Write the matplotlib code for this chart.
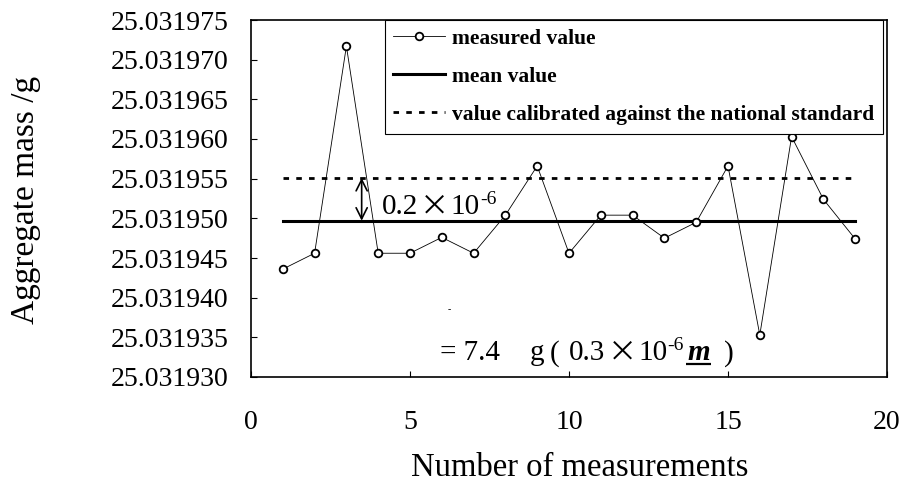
"""
Aggregate mass of the weight set over repeated measurements
"""

import matplotlib
matplotlib.use("Agg")
import numpy as np
import matplotlib.pyplot as plt
from matplotlib.ticker import FormatStrFormatter


# measurement number and measured aggregate mass in g
measurement = [1, 2, 3, 4, 5, 6, 7, 8, 9, 10, 11, 12, 13, 14, 15, 16, 17, 18, 19]
measured = [25.0319436, 25.0319456, 25.0319717, 25.0319456, 25.0319456,
            25.0319476, 25.0319456, 25.0319504, 25.0319566, 25.0319456,
            25.0319504, 25.0319504, 25.0319475, 25.0319495, 25.0319566,
            25.0319353, 25.0319603, 25.0319524, 25.0319474]
mean_value = 25.0319497
national_value = 25.0319551

y_ticks = [25.031930, 25.031935, 25.031940, 25.031945, 25.031950,
           25.031955, 25.031960, 25.031965, 25.031970, 25.031975]
x_ticks = [0, 5, 10, 15, 20]

SERIF = ["Liberation Serif", "DejaVu Serif"]
CROSS = ["Noto Sans CJK JP", "DejaVu Sans"]


def placePieces(fig, ax, x, y, pieces):
    """
    Writes text pieces one after another from (x, y) on the baseline.
    Each piece is (text, gap after in px, extra keyword args)
    """
    r = fig.canvas.get_renderer()
    inv = ax.transData.inverted()
    px, py = ax.transData.transform((x, y))
    made = []
    for txt, gap, kw in pieces:
        kw = dict(kw)
        dy = kw.pop('dy', 0)
        size = kw.pop('size', 21)
        family = kw.pop('family', SERIF)
        xd, yd = inv.transform((px, py + dy))
        t = ax.text(xd, yd, txt, fontsize=size, family=family,
                    va='baseline', ha='left', **kw)
        bb = t.get_window_extent(r)
        made.append((t, bb))
        px = bb.x1 + gap
    return made, py


def drawChart():
    """
    Builds the whole figure and saves it to out.png
    """
    plt.rcParams['font.family'] = SERIF

    fig = plt.figure(figsize=(9.03, 4.84), dpi=100)
    ax = fig.add_axes([251 / 903, 1 - 377 / 484, 636 / 903, 357 / 484])

    # series
    ax.plot(measurement, measured, color='black', lw=0.6, marker='o',
            ms=5.5, mfc='white', mec='black', mew=1.3,
            label='measured value', zorder=4)
    ax.plot([measurement[0], measurement[-1]], [mean_value, mean_value],
            color='black', lw=2.2, label='mean value', zorder=3)
    ax.plot([measurement[0], measurement[-1]], [national_value, national_value],
            color='black', lw=2, linestyle=(0, (2, 2.6)),
            label='value calibrated against the national standard', zorder=3)

    # axes
    ax.set_xlim(0, 20)
    ax.set_ylim(25.031930, 25.031975)
    ax.set_xticks(x_ticks)
    ax.set_yticks(y_ticks)
    ax.yaxis.set_major_formatter(FormatStrFormatter('%.6f'))
    ax.tick_params(direction='in', length=4, width=0.8, labelsize=20,
                   top=False, right=False)
    ax.tick_params(axis='y', pad=16)
    ax.tick_params(axis='x', pad=24)
    for s in ax.spines.values():
        s.set_linewidth(1.2)

    ax.set_ylabel('Aggregate mass /g', fontsize=24)
    ax.yaxis.set_label_coords(-0.33, 0.495)
    ax.set_xlabel('Number of measurements', fontsize=23.5)
    ax.xaxis.set_label_coords(0.517, -0.255)
    ax.xaxis.label.set_va('center')

    leg = ax.legend(loc='upper right', bbox_to_anchor=(0.994, 1.0),
                    borderaxespad=0, fancybox=False, framealpha=1,
                    edgecolor='black', handlelength=2.4,
                    labelspacing=0.84, borderpad=0.4, handletextpad=0.35,
                    prop={'family': SERIF, 'weight': 'bold', 'size': 15.5})
    leg.get_frame().set_linewidth(0.8)

    # difference between mean and calibrated value
    ax.annotate('', xy=(3.48, mean_value), xytext=(3.48, national_value),
                arrowprops=dict(arrowstyle='<->', color='black', lw=1.2,
                                shrinkA=0, shrinkB=0, mutation_scale=20))

    fig.canvas.draw()
    inv = ax.transData.inverted()

    placePieces(fig, ax, 4.1, 25.0319505, [
        ('0.2', 2, {}),
        ('\u00d7', 2, {'family': CROSS}),
        ('10', 0, {}),
        ('-6', 0, {'size': 14, 'dy': 10}),
    ])

    # standard deviation text, with the underlined m
    ax.text(6.25, 25.0319385, '-', fontsize=7, ha='center', va='center')
    made, base = placePieces(fig, ax, 5.94, 25.0319321, [
        ('= 7.4', 30, {}),
        ('g', 5, {}),
        ('(', 10, {}),
        ('0.3', 2, {}),
        ('\u00d7', 2, {'family': CROSS}),
        ('10', 0, {}),
        ('-6', 3, {'size': 14, 'dy': 10}),
        ('m', 14, {'fontweight': 'bold', 'fontstyle': 'italic'}),
        (')', 0, {}),
    ])
    bb_m = made[7][1]
    ends = inv.transform([(bb_m.x0 - 1, base - 4), (bb_m.x1 + 1, base - 4)])
    ax.plot(ends[:, 0], ends[:, 1], color='black', lw=1.6,
            solid_capstyle='butt')

    fig.savefig('out.png', dpi=100)


if __name__ == "__main__":
    drawChart()
